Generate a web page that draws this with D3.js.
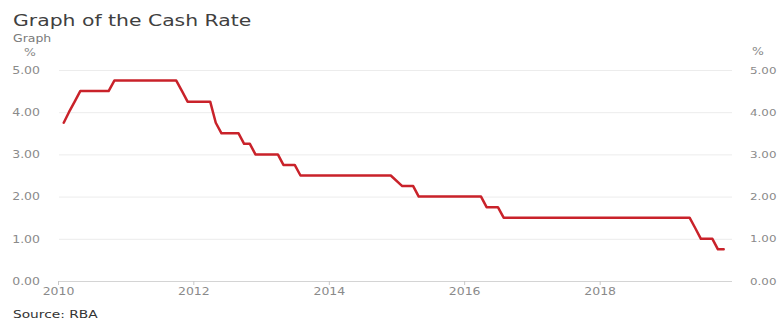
<!DOCTYPE html>
<html>
<head>
<meta charset="utf-8">
<script src="https://cdn.jsdelivr.net/npm/d3@7"></script>
<style>
  html, body { margin: 0; padding: 0; background: #fff; }
  svg { display: block; }
  text { font-family: "DejaVu Sans", Verdana, sans-serif; }
</style>
</head>
<body>
<svg id="chart" width="777" height="320"></svg>
<script>
// Cash rate (%), month of each change point in the series
const months = [
  "2010-02", "2010-03", "2010-04", "2010-05", "2010-10", "2010-11",
  "2011-10", "2011-11", "2011-12", "2012-04", "2012-05", "2012-06",
  "2012-09", "2012-10", "2012-11", "2012-12", "2013-04", "2013-05",
  "2013-07", "2013-08", "2014-12", "2015-02", "2015-04", "2015-05",
  "2016-04", "2016-05", "2016-07", "2016-08", "2019-05", "2019-06",
  "2019-07", "2019-09", "2019-10", "2019-11"
];
const rates = [
  3.75, 4.00, 4.25, 4.50, 4.50, 4.75,
  4.75, 4.50, 4.25, 4.25, 3.75, 3.50,
  3.50, 3.25, 3.25, 3.00, 3.00, 2.75,
  2.75, 2.50, 2.50, 2.25, 2.25, 2.00,
  2.00, 1.75, 1.75, 1.50, 1.50, 1.25,
  1.00, 1.00, 0.75, 0.75
];
const yTicks = [0, 1, 2, 3, 4, 5];
const xTickYears = [2010, 2012, 2014, 2016, 2018];

const title = "Graph of the Cash Rate";
const subtitle = "Graph";
const unit = "%";
const source = "Source: RBA";

const parseMonth = d3.timeParse("%Y-%m");
const data = months.map((m, i) => ({ date: parseMonth(m), value: rates[i] }));

const svg = d3.select("#chart");
const SX = 1.25; // horizontal stretch of the lettering

const x = d3.scaleTime()
  .domain([new Date(2010, 0, 1), new Date(2020, 0, 1)])
  .range([58, 735]);
const y = d3.scaleLinear().domain([0, 5]).range([281, 70]);

const gridLeft = 59, gridRight = 732;

// horizontal gridlines
svg.append("g")
  .attr("transform", `translate(${gridLeft},0)`)
  .call(d3.axisRight(y).tickValues(yTicks.filter(v => v > 0)).tickSize(gridRight - gridLeft).tickFormat(""))
  .call(g => g.select(".domain").remove())
  .call(g => g.selectAll("line").attr("stroke", "#ececec").attr("stroke-width", 1));

// left value labels
svg.append("g")
  .attr("transform", "translate(40,0)")
  .call(d3.axisLeft(y).tickValues(yTicks).tickSize(0).tickPadding(0).tickFormat(d3.format(".2f")))
  .call(g => g.select(".domain").remove())
  .call(g => g.selectAll("text")
    .attr("fill", "#8a8a8a").attr("font-size", 10)
    .attr("font-family", "DejaVu Sans")
    .attr("transform", `scale(${SX},1)`));

// right value labels
svg.append("g")
  .attr("transform", "translate(750,0)")
  .call(d3.axisRight(y).tickValues(yTicks).tickSize(0).tickPadding(0).tickFormat(d3.format(".2f")))
  .call(g => g.select(".domain").remove())
  .call(g => g.selectAll("text")
    .attr("fill", "#8a8a8a").attr("font-size", 9.5)
    .attr("font-family", "DejaVu Sans")
    .attr("transform", `scale(${SX},1)`));

// time axis
svg.append("g")
  .attr("transform", `translate(0,${y(0)})`)
  .call(d3.axisBottom(x)
    .tickValues(xTickYears.map(yr => new Date(yr, 0, 1)))
    .tickFormat(d3.timeFormat("%Y"))
    .tickSize(4).tickPadding(3).tickSizeOuter(0))
  .call(g => g.select(".domain").attr("d", `M${gridLeft},0.5H${gridRight}`).attr("stroke", "#d4d4d4"))
  .call(g => g.selectAll("line").attr("stroke", "#c8c8c8"))
  .call(g => g.selectAll("text")
    .attr("fill", "#8a8a8a").attr("font-size", 10)
    .attr("font-family", "DejaVu Sans")
    .attr("transform", `scale(${SX},1)`));

// cash rate line
const line = d3.line().x(d => x(d.date)).y(d => y(d.value));
svg.append("path")
  .datum(data)
  .attr("d", line)
  .attr("fill", "none")
  .attr("stroke", "#c9222a")
  .attr("stroke-width", 2.5)
  .attr("stroke-linejoin", "round")
  .attr("stroke-linecap", "round");

// stretched text helper
function label(txt, px, py, size, color, anchor) {
  svg.append("text")
    .attr("transform", `translate(${px},${py}) scale(${SX},1)`)
    .attr("font-size", size)
    .attr("fill", color)
    .attr("text-anchor", anchor || "start")
    .text(txt);
}

label(title, 13, 26, 16.3, "#404040");
label(subtitle, 13, 42, 10, "#7a7a7a");
label(unit, 30, 56, 10, "#8a8a8a", "middle");
label(unit, 752, 55, 10, "#8a8a8a");
label(source, 13, 318, 11, "#333333");
</script>
</body>
</html>
